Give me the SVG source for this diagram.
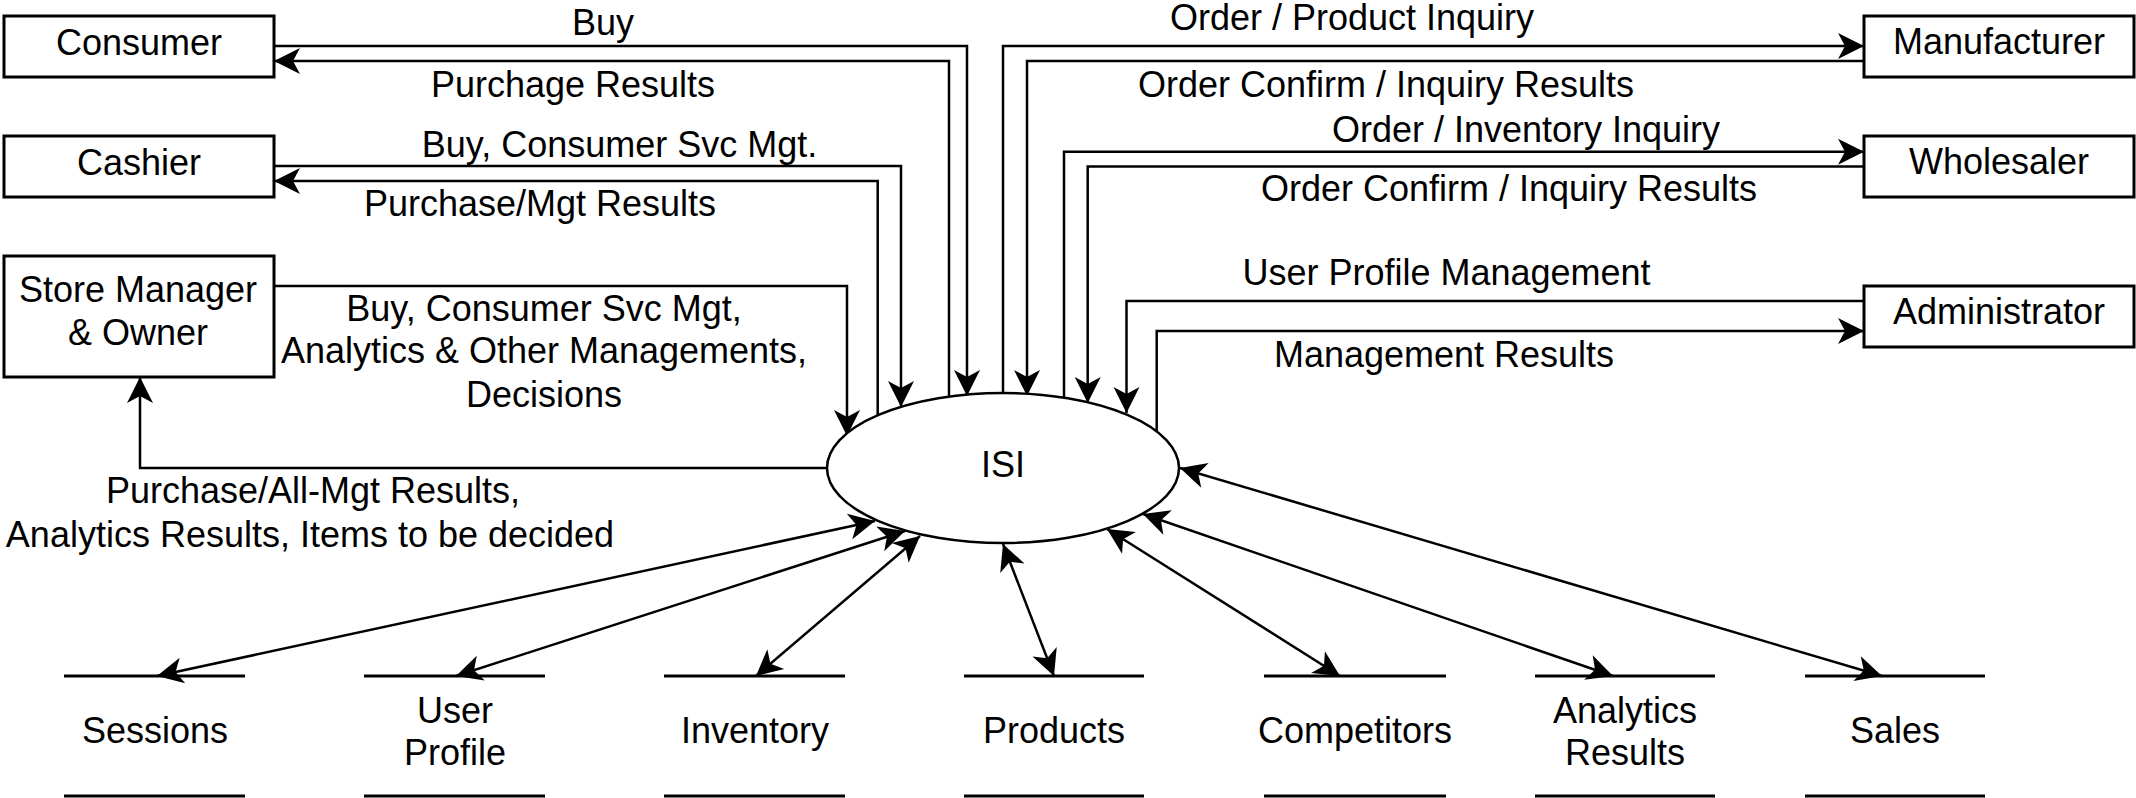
<svg xmlns="http://www.w3.org/2000/svg" width="2136" height="798" viewBox="0 0 2136 798">
<style>
.box{fill:#fff;stroke:#000;stroke-width:3}
.ds{stroke:#000;stroke-width:3;fill:none}
.c{fill:none;stroke:#000;stroke-width:2.5}
.t{font-family:"Liberation Sans",Arial,sans-serif;font-size:36px;fill:#000;text-anchor:middle}
</style>
<defs>
<marker id="arr" viewBox="-28 -15 30 30" refX="0" refY="0" markerWidth="30" markerHeight="30" markerUnits="userSpaceOnUse" orient="auto-start-reverse">
<path d="M0,0 L-26,-13 L-19,0 L-26,13 Z" fill="#000"/>
</marker>
</defs>
<g id="connectors">
<path class="c" d="M274,46 H967 V396" marker-end="url(#arr)"/>
<path class="c" d="M949,397 V61 H274" marker-end="url(#arr)"/>
<path class="c" d="M274,166 H901 V407" marker-end="url(#arr)"/>
<path class="c" d="M877.7,415 V181 H274" marker-end="url(#arr)"/>
<path class="c" d="M274,286 H847 V436" marker-end="url(#arr)"/>
<path class="c" d="M827,468 H140 V377" marker-end="url(#arr)"/>
<path class="c" d="M1003,393 V46 H1864" marker-end="url(#arr)"/>
<path class="c" d="M1864,61 H1027 V396" marker-end="url(#arr)"/>
<path class="c" d="M1064,397.6 V151.7 H1864" marker-end="url(#arr)"/>
<path class="c" d="M1864,166.5 H1087.7 V403" marker-end="url(#arr)"/>
<path class="c" d="M1864,301 H1126.5 V413" marker-end="url(#arr)"/>
<path class="c" d="M1156.7,432 V331 H1864" marker-end="url(#arr)"/>
<path class="c" d="M875,521 L157,676" marker-start="url(#arr)" marker-end="url(#arr)"/>
<path class="c" d="M905,531 L456,676" marker-start="url(#arr)" marker-end="url(#arr)"/>
<path class="c" d="M920,536 L756,676" marker-start="url(#arr)" marker-end="url(#arr)"/>
<path class="c" d="M1003,544 L1054,676" marker-start="url(#arr)" marker-end="url(#arr)"/>
<path class="c" d="M1107,529 L1340,676" marker-start="url(#arr)" marker-end="url(#arr)"/>
<path class="c" d="M1143,514 L1613,676" marker-start="url(#arr)" marker-end="url(#arr)"/>
<path class="c" d="M1180,468 L1882,676" marker-start="url(#arr)" marker-end="url(#arr)"/>
</g>
<g id="labels">
<text class="t" x="603" y="35">Buy</text>
<text class="t" x="573" y="97">Purchage Results</text>
<text class="t" x="619.5" y="156.7">Buy, Consumer Svc Mgt.</text>
<text class="t" x="540" y="216">Purchase/Mgt Results</text>
<text class="t" x="544" y="321">Buy, Consumer Svc Mgt,</text>
<text class="t" x="544" y="362.7">Analytics &amp; Other Managements,</text>
<text class="t" x="544" y="406.7">Decisions</text>
<text class="t" x="313" y="503">Purchase/All-Mgt Results,</text>
<text class="t" x="310" y="546.7">Analytics Results, Items to be decided</text>
<text class="t" x="1352" y="30">Order / Product Inquiry</text>
<text class="t" x="1386" y="97">Order Confirm / Inquiry Results</text>
<text class="t" x="1526" y="142">Order / Inventory Inquiry</text>
<text class="t" x="1509" y="201">Order Confirm / Inquiry Results</text>
<text class="t" x="1446.5" y="285">User Profile Management</text>
<text class="t" x="1444" y="366.5">Management Results</text>
</g>
<g id="consumer"><rect class="box" x="4" y="16" width="270" height="61"/><text class="t" x="139" y="55">Consumer</text></g>
<g id="cashier"><rect class="box" x="4" y="136" width="270" height="61"/><text class="t" x="139" y="175">Cashier</text></g>
<g id="store-manager"><rect class="box" x="4" y="256" width="270" height="121"/><text class="t" x="138" y="301.7">Store Manager</text><text class="t" x="138" y="345">&amp; Owner</text></g>
<g id="manufacturer"><rect class="box" x="1864" y="16" width="270" height="61"/><text class="t" x="1999" y="54">Manufacturer</text></g>
<g id="wholesaler"><rect class="box" x="1864" y="136" width="270" height="61"/><text class="t" x="1999" y="174">Wholesaler</text></g>
<g id="administrator"><rect class="box" x="1864" y="286" width="270" height="61"/><text class="t" x="1999" y="324">Administrator</text></g>
<g id="isi"><ellipse cx="1003" cy="468" rx="176" ry="75" fill="#fff" stroke="#000" stroke-width="2.5"/><text class="t" x="1003" y="477">ISI</text></g>
<g id="sessions"><path class="ds" d="M64,676 H245 M64,796 H245"/><text class="t" x="155" y="743">Sessions</text></g>
<g id="user-profile"><path class="ds" d="M364,676 H545 M364,796 H545"/><text class="t" x="455" y="723">User</text><text class="t" x="455" y="765">Profile</text></g>
<g id="inventory"><path class="ds" d="M664,676 H845 M664,796 H845"/><text class="t" x="755" y="743">Inventory</text></g>
<g id="products"><path class="ds" d="M964,676 H1144 M964,796 H1144"/><text class="t" x="1054" y="743">Products</text></g>
<g id="competitors"><path class="ds" d="M1264,676 H1446 M1264,796 H1446"/><text class="t" x="1355" y="743">Competitors</text></g>
<g id="analytics-results"><path class="ds" d="M1535,676 H1715 M1535,796 H1715"/><text class="t" x="1625" y="723">Analytics</text><text class="t" x="1625" y="765">Results</text></g>
<g id="sales"><path class="ds" d="M1805,676 H1985 M1805,796 H1985"/><text class="t" x="1895" y="743">Sales</text></g>
</svg>
